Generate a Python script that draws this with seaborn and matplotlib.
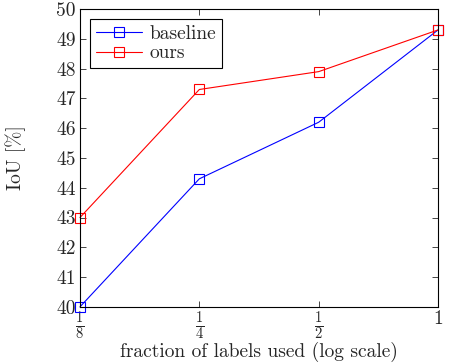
import numpy as np
import pandas as pd
import seaborn as sns
import matplotlib.pyplot as plt

sns.set_style('ticks')
plt.rcParams['font.family'] = ['cmr10', 'DejaVu Serif']
plt.rcParams['mathtext.fontset'] = 'cm'
plt.rcParams['axes.formatter.use_mathtext'] = True

# 데이터
fractions = [1/8, 1/4, 1/2, 1]
tick_labels = [r'$\frac{1}{8}$', r'$\frac{1}{4}$', r'$\frac{1}{2}$', '1']
baseline = [40.0, 44.3, 46.2, 49.3]
ours = [43.0, 47.3, 47.9, 49.3]

df = pd.DataFrame({
    'fraction': fractions * 2,
    'IoU': baseline + ours,
    'method': ['baseline'] * 4 + ['ours'] * 4,
})

fig = plt.figure(figsize=(4.65, 3.64), dpi=100)
ax = fig.add_axes([0.172, 0.157, 0.770, 0.818])

sns.lineplot(data=df, x='fraction', y='IoU', hue='method',
             palette={'baseline': '#0000ff', 'ours': '#ff0000'},
             marker='s', markersize=7, markerfacecolor='none',
             linewidth=0.8, ax=ax, legend=False)
lines = ax.lines[:2]
for line, c in zip(lines, ['#0000ff', '#ff0000']):
    line.set_markeredgecolor(c)
    line.set_markeredgewidth(0.8)
    line.set_clip_on(False)

ax.set_xscale('log', base=2)
ax.set_xlim(1/8, 1)
ax.set_ylim(40, 50)
ax.set_xticks(fractions)
ax.set_xticklabels(tick_labels, fontsize=15)
ax.get_xticklabels()[-1].set_fontsize(14)
ax.minorticks_off()
ax.set_yticks(range(40, 51))
ax.set_yticklabels([str(v) for v in range(40, 51)], fontsize=14)
ax.tick_params(direction='in', top=True, right=True, length=4, width=0.6, pad=3)
ax.tick_params(axis='x', pad=2)

for s in ax.spines.values():
    s.set_linewidth(0.8)
    s.set_color('black')

ax.set_xlabel('fraction of labels used (log scale)', fontsize=14, labelpad=0)
ax.set_ylabel('IoU [%]', fontsize=14, labelpad=22)

leg = ax.legend(lines, ['baseline', 'ours'], loc='upper left', fontsize=14,
                fancybox=False, edgecolor='black', framealpha=1,
                borderaxespad=0.5, handlelength=2.4,
                borderpad=0.3, labelspacing=0.1, handletextpad=0.4)
leg.get_frame().set_linewidth(0.8)

fig.savefig('out.png', dpi=100)
